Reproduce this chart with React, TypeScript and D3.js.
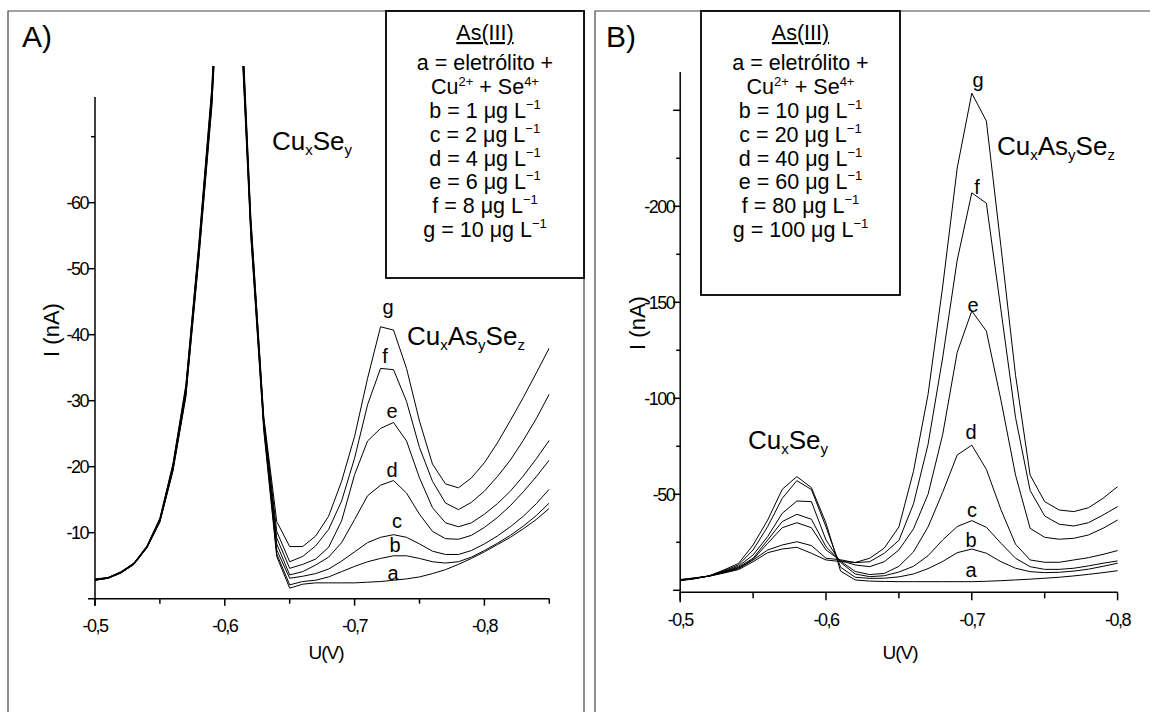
import React from "react";
import * as d3 from "d3";

// ---- panel A data (potential in V, current in nA) ----
const voltsA = [-0.5, -0.51, -0.52, -0.53, -0.54, -0.55, -0.56, -0.57, -0.58, -0.59, -0.6, -0.61, -0.62, -0.63,
  -0.64, -0.65, -0.66, -0.67, -0.68, -0.69, -0.7, -0.71, -0.72, -0.73, -0.74, -0.75, -0.76, -0.77, -0.78, -0.79,
  -0.8, -0.81, -0.82, -0.83, -0.84, -0.85];
const ampsA_a = [-2.8, -3.1, -3.9, -5.2, -7.7, -11.6, -19.3, -30.6, -51.5, -74.5, -111, -97, -55, -25.5,
  -6.4, -1.6, -2.2, -2.4, -2.4, -2.4, -2.4, -2.5, -2.6, -2.8, -3.0, -3.3, -3.8, -4.4, -5.2, -6.1, -7.1, -8.2, -9.3, -10.6, -12.0, -13.7];
const ampsA_b = [-2.8, -3.1, -3.9, -5.2, -7.7, -11.7, -19.4, -30.8, -51.8, -75, -112, -98, -55.5, -26,
  -6.8, -2.1, -2.6, -2.8, -3.3, -4.1, -4.9, -5.6, -6.1, -6.5, -6.5, -6.1, -5.6, -5.4, -5.6, -6.3, -7.3, -8.4, -9.6, -11.0, -12.6, -14.5];
const ampsA_c = [-2.8, -3.1, -3.9, -5.3, -7.8, -11.8, -19.6, -31.2, -52.2, -75.5, -113, -98.5, -56, -26.3,
  -7.4, -3.1, -3.4, -3.8, -4.5, -5.7, -7.1, -8.5, -9.3, -9.7, -9.3, -8.3, -7.2, -6.7, -6.7, -7.3, -8.3, -9.5, -10.9, -12.5, -14.4, -16.6];
const ampsA_d = [-2.9, -3.1, -4.0, -5.3, -7.8, -11.9, -19.8, -31.5, -52.6, -76, -114, -99, -56.5, -26.6,
  -8.3, -3.6, -4.1, -5.1, -6.3, -8.5, -12.0, -15.6, -17.2, -17.9, -16.0, -12.8, -10.2, -9.1, -9.0, -9.6, -10.8, -12.3, -14.1, -16.2, -18.5, -21.0];
const ampsA_e = [-2.9, -3.2, -4.0, -5.3, -7.9, -12.0, -20.0, -31.8, -53, -76.5, -115, -100, -57, -27,
  -9.2, -4.6, -5.2, -6.0, -7.8, -11.8, -18.8, -23.9, -25.8, -26.7, -23.9, -18.3, -13.8, -11.5, -10.9, -11.5, -12.8, -14.4, -16.3, -18.6, -21.2, -24.0];
const ampsA_f = [-2.9, -3.2, -4.0, -5.4, -7.9, -12.1, -20.2, -32.1, -53.4, -77, -116, -101, -57.5, -27.3,
  -10.2, -5.6, -6.4, -8.0, -10.5, -14.8, -21.3, -29.4, -34.9, -34.7, -29.9, -22.9, -17.8, -14.5, -13.5, -14.6, -16.3, -18.5, -21.0, -24.0, -27.3, -31.0];
const ampsA_g = [-3.0, -3.2, -4.1, -5.4, -8.0, -12.2, -20.4, -32.4, -53.8, -77.5, -117, -102, -58, -27.6,
  -11.7, -7.9, -7.9, -9.5, -12.5, -17.8, -24.6, -33.4, -41.2, -40.7, -34.9, -26.9, -20.4, -17.4, -16.8, -18.3, -20.6, -23.6, -27.0, -30.5, -34.2, -38.0];

// ---- panel B data ----
const voltsB = [-0.5, -0.51, -0.52, -0.53, -0.54, -0.55, -0.56, -0.57, -0.58, -0.59, -0.6, -0.61, -0.62, -0.63,
  -0.64, -0.65, -0.66, -0.67, -0.68, -0.69, -0.7, -0.71, -0.72, -0.73, -0.74, -0.75, -0.76, -0.77, -0.78, -0.79, -0.8];
const ampsB_a = [-5.0, -6.0, -7.6, -10.6, -14.0, -23.6, -36.6, -52.6, -59.2, -53.5, -35, -10, -5.4, -4.8, -4.6, -4.5,
  -4.5, -4.5, -4.5, -4.5, -4.5, -4.7, -5.0, -5.4, -5.8, -6.3, -6.8, -7.5, -8.3, -9.2, -10.2];
const ampsB_b = [-5.1, -6.1, -7.6, -10.2, -13.2, -21, -33.2, -47.9, -57.1, -52.5, -33, -12, -6.8, -6.2, -6.3, -7.0,
  -8.5, -11.3, -15, -19.6, -21.5, -19.3, -14.9, -11.5, -9.7, -9.2, -9.4, -10.0, -11.0, -12.5, -14.1];
const ampsB_c = [-5.2, -6.2, -7.5, -9.9, -12.5, -18.4, -28, -40.1, -46.5, -46.2, -26.2, -14.5, -8.5, -7.1, -7.6, -9.5,
  -12.5, -18, -26.2, -33.2, -36.3, -32.8, -24.5, -16.7, -12.3, -10.9, -10.9, -11.5, -12.7, -14.1, -15.3];
const ampsB_d = [-5.3, -6.2, -7.4, -9.6, -12.0, -16.7, -26.2, -35.8, -39.6, -37.0, -22.7, -15.2, -9.8, -8.2, -8.8, -12.5,
  -20, -33, -51, -70.5, -75.6, -63, -42, -24, -15.8, -14.6, -14.6, -15.8, -17.0, -18.7, -20.7];
const ampsB_e = [-5.4, -6.3, -7.4, -9.4, -11.6, -16.1, -24.5, -32.6, -35.2, -32.6, -21, -15.5, -13.2, -12.3, -14.9, -21,
  -32, -50, -81, -124, -145.5, -135, -99, -60, -32.3, -27.6, -26.6, -27.1, -28.8, -32.3, -36.6];
const ampsB_f = [-5.5, -6.4, -7.4, -9.2, -11.2, -15.8, -21, -23.6, -25.3, -23.3, -16.7, -15.9, -14.4, -14.9, -19.3, -26,
  -45, -76, -121, -172, -207, -201.6, -146, -90, -52, -38.7, -34.4, -33.5, -35.2, -39.2, -43.6];
const ampsB_g = [-5.6, -6.5, -7.4, -9.0, -10.8, -14.9, -19.6, -21.5, -22.4, -19.3, -15.8, -15, -14.5, -16.7, -22, -33,
  -62, -102, -158, -220, -258.9, -244.4, -179, -112, -60, -46.2, -41.8, -41, -43, -47.9, -54];

// ---- ticks / legend text ----
const xTicksA = [-0.5, -0.55, -0.6, -0.65, -0.7, -0.75, -0.8, -0.85];
const xLabelsA = [-0.5, -0.6, -0.7, -0.8];
const yTicksA = [-10, -20, -30, -40, -50, -60];
const yMinorA = [-70];
const xTicksB = [-0.5, -0.55, -0.6, -0.65, -0.7, -0.75, -0.8];
const xLabelsB = [-0.5, -0.6, -0.7, -0.8];
const yTicksB = [0, -50, -100, -150, -200, -250];
const yMinorB = [-25, -75, -125, -175, -225];
const yLabelsB = [-50, -100, -150, -200];
const curveNames = ["a", "b", "c", "d", "e", "f", "g"];
const concA = ["1", "2", "4", "6", "8", "10"];
const concB = ["10", "20", "40", "60", "80", "100"];

const FONT = "'Liberation Sans', Arial, Helvetica, sans-serif";
const loc = d3.formatLocale({ decimal: ",", thousands: ".", grouping: [3], currency: ["", ""], minus: "-" });
const fmtV = loc.format(".1f");
const fmtI = loc.format("d");

function Formula({ x, y, parts }: { x: number; y: number; parts: [string, string][] }) {
  // parts: [main, subscript]
  return (
    <text x={x} y={y} fontSize={26} fontFamily={FONT}>
      {parts.map(([m, s], i) => (
        <React.Fragment key={i}>
          <tspan dy={i === 0 ? 0 : -5} fontSize={26}>{m}</tspan>
          <tspan dy={5} fontSize={15}>{s}</tspan>
        </React.Fragment>
      ))}
    </text>
  );
}

function Legend({ x0, x1, y0, y1, conc }: { x0: number; x1: number; y0: number; y1: number; conc: string[] }) {
  const cx = (x0 + x1) / 2;
  const rows = [118, 142, 166, 189, 213, 237];
  return (
    <g fontFamily={FONT} fontSize={21.5} textAnchor="middle">
      <rect x={x0} y={y0} width={x1 - x0} height={y1 - y0} fill="white" stroke="#000" strokeWidth={1.8} />
      <text x={cx} y={40} textDecoration="underline">As(III)</text>
      <text x={cx} y={70}>a = eletrólito +</text>
      <text x={cx} y={94}>
        Cu<tspan dy={-8} fontSize={13}>2+</tspan>
        <tspan dy={8}> + Se</tspan>
        <tspan dy={-8} fontSize={13}>4+</tspan>
      </text>
      {conc.map((c, i) => (
        <text key={i} x={cx} y={rows[i]}>
          {curveNames[i + 1]} = {c} μg L<tspan dy={-9} fontSize={13}>−1</tspan>
        </text>
      ))}
    </g>
  );
}

export default function App() {
  // panel A scales
  const xA = d3.scaleLinear().domain([-0.5, -0.85]).range([95, 549.3]);
  const yA = d3.scaleLinear().domain([0, -76]).range([598.7, 97.1]);
  // panel B scales
  const xB = d3.scaleLinear().domain([-0.5, -0.8]).range([680.2, 1117.6]);
  const yB = d3.scaleLinear().domain([0, -270]).range([590.3, 71.9]);

  const seriesA = [ampsA_a, ampsA_b, ampsA_c, ampsA_d, ampsA_e, ampsA_f, ampsA_g];
  const seriesB = [ampsB_a, ampsB_b, ampsB_c, ampsB_d, ampsB_e, ampsB_f, ampsB_g];

  const lineA = d3.line<number>().x((_, i) => xA(voltsA[i])).y((d) => yA(d));
  const lineB = d3.line<number>().x((_, i) => xB(voltsB[i])).y((d) => yB(d));

  const axA = yA(0);
  const axB = yB(0) + 2;

  const labelsA: [string, number, number][] = [
    ["a", 393, 580], ["b", 395, 552], ["c", 397, 528], ["d", 392, 477], ["e", 392, 418], ["f", 385, 363], ["g", 388, 314],
  ];
  const labelsB: [string, number, number][] = [
    ["a", 971, 577], ["b", 971, 547], ["c", 972, 517], ["d", 971, 439], ["e", 973, 312], ["f", 977, 194], ["g", 978, 87],
  ];

  return (
    <svg width={1150} height={712} style={{ position: "absolute", left: 0, top: 0, background: "white" }}>
      <rect x={0} y={0} width={1150} height={712} fill="white" />
      <defs>
        <clipPath id="clipA">
          <rect x={xA(-0.5)} y={yA(-80.7)} width={xA(-0.85) - xA(-0.5)} height={axA - yA(-80.7) + 2} />
        </clipPath>
      </defs>

      {/* panel frames */}
      <path d="M8,712 V11 H584 V712" fill="none" stroke="#444" strokeWidth={1.2} />
      <path d="M595,712 V11 H1150" fill="none" stroke="#444" strokeWidth={1.2} />

      {/* ---------- panel A ---------- */}
      <Legend x0={386} x1={584} y0={11} y1={278} conc={concA} />
      <text x={22} y={47} fontSize={30} fontFamily={FONT}>A)</text>

      <g clipPath="url(#clipA)" fill="none" stroke="#000" strokeWidth={1}>
        {seriesA.map((s, i) => (
          <path key={i} d={lineA(s) || ""} />
        ))}
      </g>

      <g stroke="#000" strokeWidth={1.5}>
        <line x1={xA(-0.5)} x2={xA(-0.5)} y1={yA(-76)} y2={axA + 7} />
        <line x1={xA(-0.5) - 7} x2={xA(-0.85)} y1={axA} y2={axA} />
        {xTicksA.map((v) => (
          <line key={v} x1={xA(v)} x2={xA(v)} y1={axA} y2={axA + (xLabelsA.includes(v) ? 7 : 5)} />
        ))}
        {yTicksA.map((v) => (
          <line key={v} x1={xA(-0.5) - 7} x2={xA(-0.5)} y1={yA(v)} y2={yA(v)} />
        ))}
        {yMinorA.map((v) => (
          <line key={v} x1={xA(-0.5) - 4} x2={xA(-0.5)} y1={yA(v)} y2={yA(v)} />
        ))}
      </g>
      <g fontFamily={FONT} fontSize={18} style={{ letterSpacing: "-1.5px" }}>
        {xLabelsA.map((v) => (
          <text key={v} x={xA(v)} y={632} textAnchor="middle">{fmtV(v)}</text>
        ))}
        {yTicksA.map((v) => (
          <text key={v} x={xA(-0.5) - 7} y={yA(v)} dy="0.36em" textAnchor="end">{fmtI(v)}</text>
        ))}
      </g>
      <text x={326} y={659} fontFamily={FONT} fontSize={19} textAnchor="middle" style={{ letterSpacing: "-1px" }}>U(V)</text>
      <text transform="translate(59,330) rotate(-90)" fontFamily={FONT} fontSize={22} textAnchor="middle">I (nA)</text>

      <Formula x={272} y={150} parts={[["Cu", "x"], ["Se", "y"]]} />
      <Formula x={407} y={345} parts={[["Cu", "x"], ["As", "y"], ["Se", "z"]]} />
      <g fontFamily={FONT} fontSize={20} textAnchor="middle">
        {labelsA.map(([t, x, y]) => (
          <text key={t} x={x} y={y}>{t}</text>
        ))}
      </g>

      {/* ---------- panel B ---------- */}
      <Legend x0={701} x1={900} y0={11} y1={295} conc={concB} />
      <text x={606} y={47} fontSize={30} fontFamily={FONT}>B)</text>

      <g fill="none" stroke="#000" strokeWidth={1}>
        {seriesB.map((s, i) => (
          <path key={i} d={lineB(s) || ""} />
        ))}
      </g>

      <g stroke="#000" strokeWidth={1.5}>
        <line x1={xB(-0.5)} x2={xB(-0.5)} y1={yB(-270)} y2={axB + 10} />
        <line x1={xB(-0.5)} x2={xB(-0.8)} y1={axB} y2={axB} />
        {xTicksB.map((v) => (
          <line key={v} x1={xB(v)} x2={xB(v)} y1={axB} y2={axB + (xLabelsB.includes(v) ? 8 : 6)} />
        ))}
        {yTicksB.map((v) => (
          <line key={v} x1={xB(-0.5) - 7} x2={xB(-0.5)} y1={yB(v)} y2={yB(v)} />
        ))}
        {yMinorB.map((v) => (
          <line key={v} x1={xB(-0.5) - 4} x2={xB(-0.5)} y1={yB(v)} y2={yB(v)} />
        ))}
      </g>
      <g fontFamily={FONT} fontSize={18} style={{ letterSpacing: "-1.5px" }}>
        {xLabelsB.map((v) => (
          <text key={v} x={xB(v)} y={626} textAnchor="middle">{fmtV(v)}</text>
        ))}
        {yLabelsB.map((v) => (
          <text key={v} x={xB(-0.5) - 6} y={yB(v)} dy="0.36em" textAnchor="end">{fmtI(v)}</text>
        ))}
      </g>
      <text x={900} y={659} fontFamily={FONT} fontSize={19} textAnchor="middle" style={{ letterSpacing: "-1px" }}>U(V)</text>
      <text transform="translate(645,323) rotate(-90)" fontFamily={FONT} fontSize={22} textAnchor="middle">I (nA)</text>

      <Formula x={748} y={449} parts={[["Cu", "x"], ["Se", "y"]]} />
      <Formula x={997} y={155} parts={[["Cu", "x"], ["As", "y"], ["Se", "z"]]} />
      <g fontFamily={FONT} fontSize={20} textAnchor="middle">
        {labelsB.map(([t, x, y]) => (
          <text key={t} x={x} y={y}>{t}</text>
        ))}
      </g>
    </svg>
  );
}
